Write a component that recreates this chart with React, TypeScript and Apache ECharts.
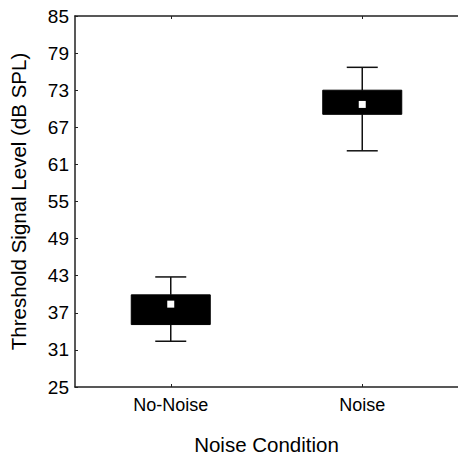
import React, { useEffect, useRef } from "react";
import * as echarts from "echarts";

const categories = ["No-Noise", "Noise"];
const whiskerLow = [32.4, 63.2];
const boxLow = [35.1, 69.1];
const boxHigh = [39.9, 73.0];
const whiskerHigh = [42.8, 76.7];
const means = [38.4, 70.7];
const yMin = 25;
const yMax = 85;
const yStep = 6;

const FONT = "'Liberation Sans', Arial, sans-serif";

export default function App() {
  const ref = useRef<HTMLDivElement>(null);
  useEffect(() => {
    if (!ref.current) return;
    const chart = echarts.init(ref.current, undefined, { renderer: "svg" });
    const boxData = categories.map((_, i) => [i, whiskerLow[i], boxLow[i], boxHigh[i], whiskerHigh[i]]);
    const meanData = categories.map((_, i) => [i, means[i]]);
    const axisLine = { show: true, lineStyle: { color: "#222", width: 1.5 } };
    chart.setOption({
      animation: false,
      backgroundColor: "#fff",
      grid: { left: 73, top: 16, width: 393, height: 385, containLabel: false },
      xAxis: [
        {
          type: "category",
          data: categories,
          position: "bottom",
          name: "Noise Condition",
          nameLocation: "middle",
          nameGap: 47,
          nameTextStyle: { fontFamily: FONT, fontSize: 20.5, color: "#000" },
          axisLine,
          axisTick: { show: true, inside: true, alignWithLabel: true, length: 3, lineStyle: { color: "#222", width: 1 } },
          axisLabel: { fontFamily: FONT, fontSize: 18, color: "#000", margin: 9 },
          splitLine: { show: false },
        },
        {
          type: "category",
          data: categories,
          position: "top",
          axisLine,
          axisTick: { show: true, inside: true, alignWithLabel: true, length: 3, lineStyle: { color: "#222", width: 1 } },
          axisLabel: { show: false },
          splitLine: { show: false },
        },
      ],
      yAxis: {
        type: "value",
        min: yMin,
        max: yMax,
        interval: yStep,
        name: "Threshold Signal Level (dB SPL)",
        nameLocation: "middle",
        nameGap: 46,
        nameTextStyle: { fontFamily: FONT, fontSize: 20.5, color: "#000" },
        axisLine,
        axisTick: { show: true, inside: true, length: 3, lineStyle: { color: "#222", width: 1 } },
        axisLabel: { fontFamily: FONT, fontSize: 19, color: "#000", margin: 6 },
        splitLine: { show: false },
      },
      series: [
        {
          type: "custom",
          xAxisIndex: 0,
          data: boxData,
          encode: { x: 0, y: [1, 2, 3, 4] },
          renderItem: (params: any, api: any) => {
            const x = api.value(0);
            const pWl = api.coord([x, api.value(1)]);
            const pBl = api.coord([x, api.value(2)]);
            const pBh = api.coord([x, api.value(3)]);
            const pWh = api.coord([x, api.value(4)]);
            const cx = pWl[0];
            const bw = 79;
            const cw = 31;
            const ls = { stroke: "#111", lineWidth: 1.5, fill: "none" };
            return {
              type: "group",
              children: [
                { type: "line", shape: { x1: cx, y1: pWh[1], x2: cx, y2: pBh[1] }, style: ls },
                { type: "line", shape: { x1: cx, y1: pBl[1], x2: cx, y2: pWl[1] }, style: ls },
                { type: "line", shape: { x1: cx - cw / 2, y1: pWh[1], x2: cx + cw / 2, y2: pWh[1] }, style: ls },
                { type: "line", shape: { x1: cx - cw / 2, y1: pWl[1], x2: cx + cw / 2, y2: pWl[1] }, style: ls },
                {
                  type: "rect",
                  shape: { x: cx - bw / 2, y: pBh[1], width: bw, height: pBl[1] - pBh[1] },
                  style: { fill: "#000", stroke: "#000", lineWidth: 1 },
                },
              ],
            };
          },
          z: 2,
        },
        {
          type: "scatter",
          xAxisIndex: 0,
          data: meanData,
          symbol: "rect",
          symbolSize: 7,
          itemStyle: { color: "#fff", opacity: 1 },
          z: 5,
        },
      ],
    });
    return () => chart.dispose();
  }, []);
  return <div ref={ref} style={{ position: "absolute", left: 0, top: 0, width: 458, height: 460 }} />;
}
